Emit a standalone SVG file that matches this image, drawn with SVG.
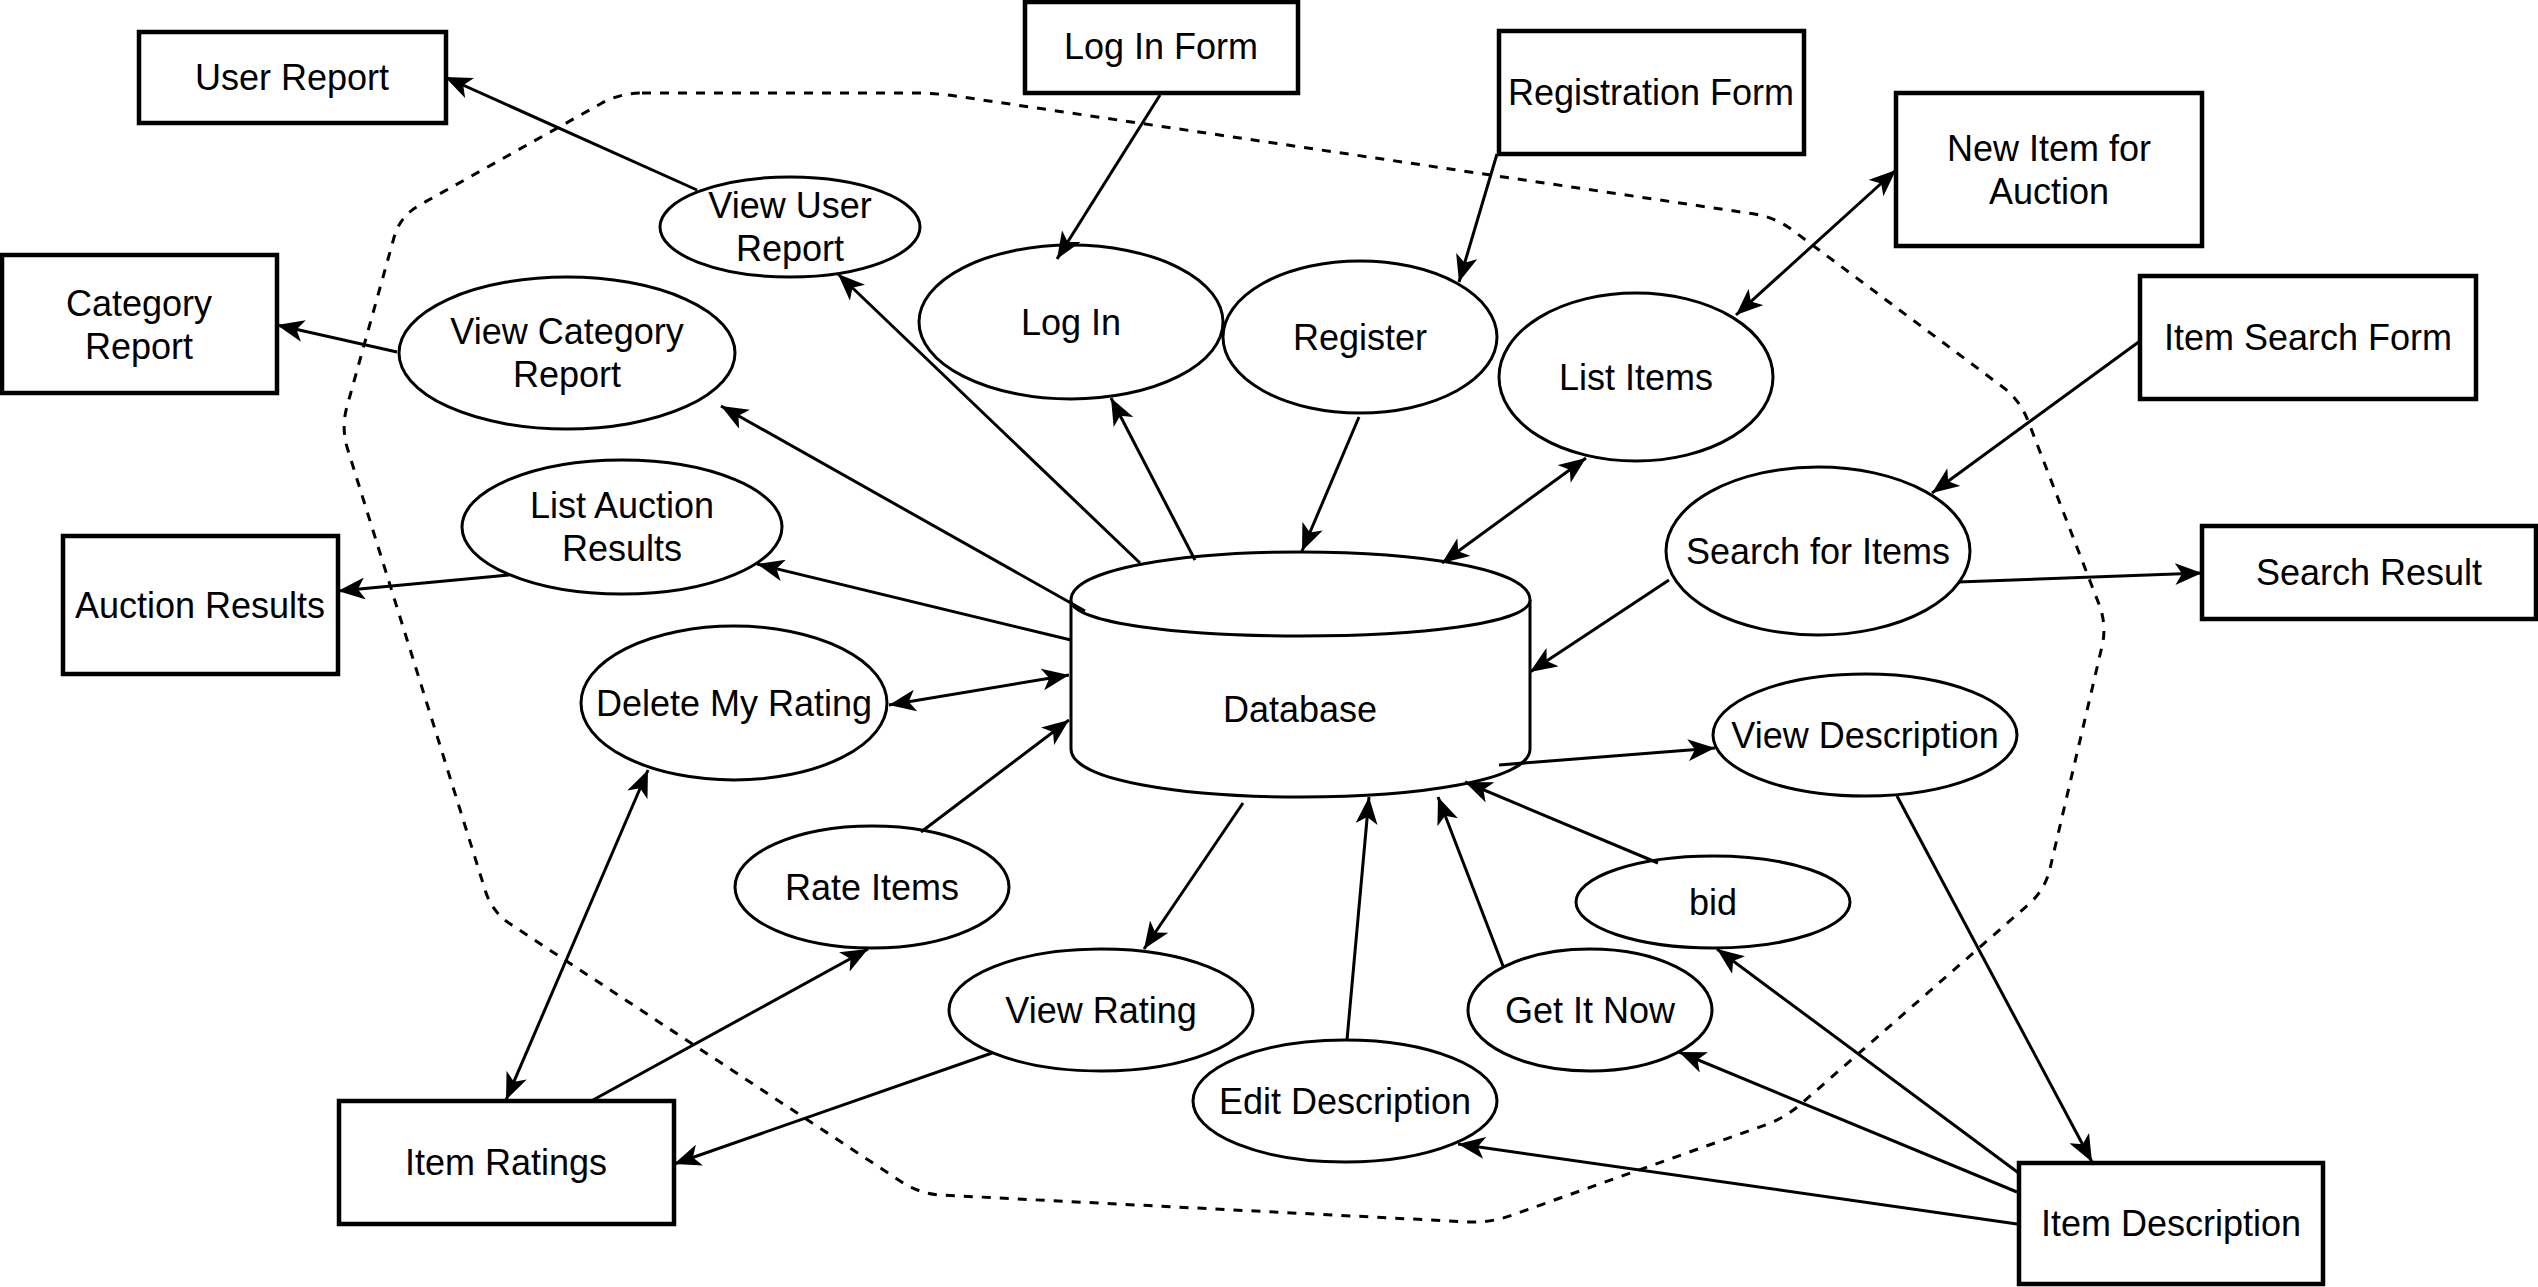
<svg xmlns="http://www.w3.org/2000/svg" width="2538" height="1287" viewBox="0 0 2538 1287">
<style>
  .box{fill:#fff;stroke:#000;stroke-width:4.5}
  .proc{fill:#fff;stroke:#000;stroke-width:3}
  .db{fill:#fff;stroke:#000;stroke-width:3}
  .edge{fill:none;stroke:#000;stroke-width:3}
  .one{marker-end:url(#arr)}
  .two{marker-start:url(#arr);marker-end:url(#arr)}
  .bound{fill:none;stroke:#000;stroke-width:3;stroke-dasharray:9 9}
  text{font-family:"Liberation Sans",Arial,Helvetica,sans-serif;font-size:36px;fill:#000;text-anchor:middle}
</style>
<defs>
  <marker id="arr" markerUnits="userSpaceOnUse" viewBox="0 0 28 22" markerWidth="28" markerHeight="22" refX="27" refY="11" orient="auto-start-reverse">
    <path d="M27,11 L0,0 L7,11 L0,22 Z" fill="#000"/>
  </marker>
</defs>
<rect width="2538" height="1287" fill="#fff"/>
<path class="bound" d="M642,93 L913,93 Q935,93 956.8,96.2 L1753.2,213.8 Q1775,217 1792.6,230.2 L2002.4,386.8 Q2020,400 2027.9,420.5 L2099.1,604.5 Q2107,625 2102,646.4 L2050,868.6 Q2045,890 2028.5,904.5 L1801.5,1103.5 Q1785,1118 1764.3,1125.4 L1510.7,1215.6 Q1490,1223 1468,1221.9 L942,1195.1 Q920,1194 901.6,1181.9 L510.4,924.1 Q492,912 485.4,891 L347.6,449 Q341,428 346.9,406.8 L394.1,237.2 Q400,216 419.2,205.3 L600.8,103.7 Q620,93 642,93 Z"/>
<g id="database">
  <path class="db" d="M1071,600 C1071,536 1530,536 1530,600 L1530,749 C1530,813 1071,813 1071,749 Z"/>
  <path class="db" fill="none" d="M1071,600 C1071,648 1530,648 1530,600"/>
  <text x="1300" y="722">Database</text>
</g>
<g id="user-report"><rect class="box" x="139" y="32" width="307" height="91"/><text x="292" y="90">User Report</text></g>
<g id="log-in-form"><rect class="box" x="1025" y="2" width="273" height="91"/><text x="1161" y="59">Log In Form</text></g>
<g id="registration-form"><rect class="box" x="1499" y="31" width="305" height="123"/><text x="1651" y="105">Registration Form</text></g>
<g id="new-item"><rect class="box" x="1896" y="93" width="306" height="153"/><text x="2049" y="161">New Item for</text><text x="2049" y="204">Auction</text></g>
<g id="item-search-form"><rect class="box" x="2140" y="276" width="336" height="123"/><text x="2308" y="350">Item Search Form</text></g>
<g id="search-result"><rect class="box" x="2202" y="526" width="334" height="93"/><text x="2369" y="585">Search Result</text></g>
<g id="category-report"><rect class="box" x="2" y="255" width="275" height="138"/><text x="139" y="316">Category</text><text x="139" y="359">Report</text></g>
<g id="auction-results"><rect class="box" x="63" y="536" width="275" height="138"/><text x="200" y="618">Auction Results</text></g>
<g id="item-ratings"><rect class="box" x="339" y="1101" width="335" height="123"/><text x="506" y="1175">Item Ratings</text></g>
<g id="item-description"><rect class="box" x="2019" y="1163" width="304" height="121"/><text x="2171" y="1236">Item Description</text></g>
<g id="view-user-report"><ellipse class="proc" cx="790" cy="227" rx="130" ry="50"/><text x="790" y="218">View User</text><text x="790" y="261">Report</text></g>
<g id="log-in"><ellipse class="proc" cx="1071" cy="322" rx="152" ry="77"/><text x="1071" y="335">Log In</text></g>
<g id="view-category-report"><ellipse class="proc" cx="567" cy="353" rx="168" ry="76"/><text x="567" y="344">View Category</text><text x="567" y="387">Report</text></g>
<g id="list-auction-results"><ellipse class="proc" cx="622" cy="527" rx="160" ry="67"/><text x="622" y="518">List Auction</text><text x="622" y="561">Results</text></g>
<g id="register"><ellipse class="proc" cx="1360" cy="337" rx="137" ry="76"/><text x="1360" y="350">Register</text></g>
<g id="list-items"><ellipse class="proc" cx="1636" cy="377" rx="137" ry="84"/><text x="1636" y="390">List Items</text></g>
<g id="search-for-items"><ellipse class="proc" cx="1818" cy="551" rx="152" ry="84"/><text x="1818" y="564">Search for Items</text></g>
<g id="delete-my-rating"><ellipse class="proc" cx="734" cy="703" rx="153" ry="77"/><text x="734" y="716">Delete My Rating</text></g>
<g id="rate-items"><ellipse class="proc" cx="872" cy="887" rx="137" ry="61"/><text x="872" y="900">Rate Items</text></g>
<g id="view-rating"><ellipse class="proc" cx="1101" cy="1010" rx="152" ry="61"/><text x="1101" y="1023">View Rating</text></g>
<g id="edit-description"><ellipse class="proc" cx="1345" cy="1101" rx="152" ry="61"/><text x="1345" y="1114">Edit Description</text></g>
<g id="get-it-now"><ellipse class="proc" cx="1590" cy="1010" rx="122" ry="61"/><text x="1590" y="1023">Get It Now</text></g>
<g id="bid"><ellipse class="proc" cx="1713" cy="902" rx="137" ry="46"/><text x="1713" y="915">bid</text></g>
<g id="view-description"><ellipse class="proc" cx="1865" cy="735" rx="152" ry="61"/><text x="1865" y="748">View Description</text></g>
<g id="connectors">
  <line class="edge one" x1="697" y1="190" x2="445" y2="77"/>
  <line class="edge one" x1="1140" y1="563" x2="838" y2="274"/>
  <line class="edge one" x1="1195" y1="560" x2="1111" y2="398"/>
  <line class="edge one" x1="1160" y1="95" x2="1057" y2="259"/>
  <line class="edge one" x1="1497" y1="154" x2="1459" y2="282"/>
  <line class="edge one" x1="1359" y1="417" x2="1302" y2="551"/>
  <line class="edge two" x1="1736" y1="315" x2="1896" y2="170"/>
  <line class="edge two" x1="1586" y1="458" x2="1442" y2="563"/>
  <line class="edge one" x1="2140" y1="341" x2="1932" y2="493"/>
  <line class="edge one" x1="1958" y1="582" x2="2202" y2="573"/>
  <line class="edge one" x1="1669" y1="580" x2="1530" y2="672"/>
  <line class="edge one" x1="1499" y1="765" x2="1715" y2="748"/>
  <line class="edge one" x1="1897" y1="796" x2="2092" y2="1162"/>
  <line class="edge one" x1="1658" y1="863" x2="1465" y2="782"/>
  <line class="edge one" x1="1503" y1="966" x2="1438" y2="797"/>
  <line class="edge one" x1="1347" y1="1040" x2="1369" y2="797"/>
  <line class="edge one" x1="2020" y1="1174" x2="1717" y2="949"/>
  <line class="edge one" x1="2017" y1="1192" x2="1679" y2="1052"/>
  <line class="edge one" x1="2017" y1="1224" x2="1458" y2="1144"/>
  <line class="edge one" x1="1243" y1="803" x2="1144" y2="949"/>
  <line class="edge one" x1="992" y1="1053" x2="674" y2="1164"/>
  <line class="edge one" x1="593" y1="1100" x2="868" y2="949"/>
  <line class="edge one" x1="921" y1="832" x2="1069" y2="720"/>
  <line class="edge two" x1="889" y1="705" x2="1069" y2="675"/>
  <line class="edge two" x1="648" y1="770" x2="506" y2="1100"/>
  <line class="edge one" x1="1071" y1="640" x2="757" y2="564"/>
  <line class="edge one" x1="1085" y1="611" x2="721" y2="406"/>
  <line class="edge one" x1="397" y1="352" x2="277" y2="325"/>
  <line class="edge one" x1="509" y1="575" x2="338" y2="591"/>
</g>
</svg>
